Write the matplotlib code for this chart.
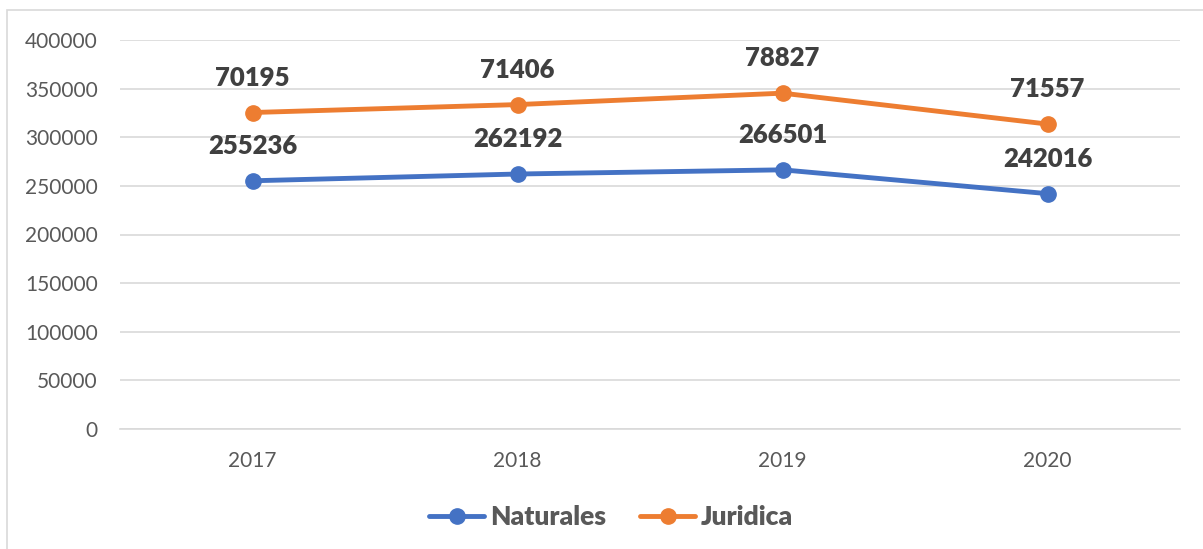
import numpy as np
import matplotlib.pyplot as plt
from matplotlib.patches import Rectangle
from matplotlib.lines import Line2D

years = ["2017", "2018", "2019", "2020"]
naturales = [255236, 262192, 266501, 242016]
juridica = [70195, 71406, 78827, 71557]

blue = "#4472C4"
orange = "#ED7D31"
grey_txt = "#595959"

plt.rcParams['font.family'] = ['Lato', 'DejaVu Sans']

W, H = 1203, 549
fig = plt.figure(figsize=(W / 100, H / 100), dpi=100)
ax = fig.add_axes([120 / W, 1 - 429 / H, (1180 - 120) / W, 389 / H])

x = np.arange(len(years))
# second series is stacked on top of the first one
stacked = np.array(naturales) + np.array(juridica)

ax.plot(x, naturales, color=blue, lw=3.5, marker='o', ms=11, solid_capstyle='round', zorder=3)
ax.plot(x, stacked, color=orange, lw=3.5, marker='o', ms=11, solid_capstyle='round', zorder=3)

for i in range(len(years)):
    ax.annotate(str(naturales[i]), (x[i], naturales[i]), xytext=(0, 35), textcoords='offset pixels',
                ha='center', va='center', fontsize=18.5, fontweight='heavy', color="#404040")
    ax.annotate(str(juridica[i]), (x[i], stacked[i]), xytext=(0, 35), textcoords='offset pixels',
                ha='center', va='center', fontsize=18.5, fontweight='heavy', color="#404040")

ax.set_xlim(-0.5, len(years) - 0.5)
ax.set_ylim(0, 400000)
ax.set_yticks(np.arange(0, 400001, 50000))
ax.set_yticklabels([str(v) for v in range(0, 400001, 50000)])
ax.set_xticks(x)
ax.set_xticklabels(years)
ax.tick_params(axis='both', length=0, labelsize=15, labelcolor=grey_txt)
ax.tick_params(axis='y', pad=16)
ax.tick_params(axis='x', pad=16)
ax.grid(axis='y', color="#D9D9D9", lw=1.2)
ax.set_axisbelow(True)
for s in ['top', 'right', 'left']:
    ax.spines[s].set_visible(False)
ax.spines['bottom'].set_color("#D9D9D9")
ax.spines['bottom'].set_linewidth(1.2)

handles = [Line2D([], [], color=blue, lw=3.5, marker='o', ms=11, solid_capstyle='round'),
           Line2D([], [], color=orange, lw=3.5, marker='o', ms=11, solid_capstyle='round')]
leg = fig.legend(handles, ["Naturales", "Juridica"], loc='center', bbox_to_anchor=(611 / W, 1 - 517 / H),
                 ncol=2, frameon=False, handlelength=2.1, handletextpad=0.2, columnspacing=1.3,
                 prop={'size': 19, 'weight': 'heavy'})
for t in leg.get_texts():
    t.set_color(grey_txt)

fig.patches.append(Rectangle((7 / W, -0.05), 1.1, 1 - 10 / H + 0.05, transform=fig.transFigure,
                             fill=False, edgecolor="#D9D9D9", lw=1.2))

fig.savefig("out.png", dpi=100)
